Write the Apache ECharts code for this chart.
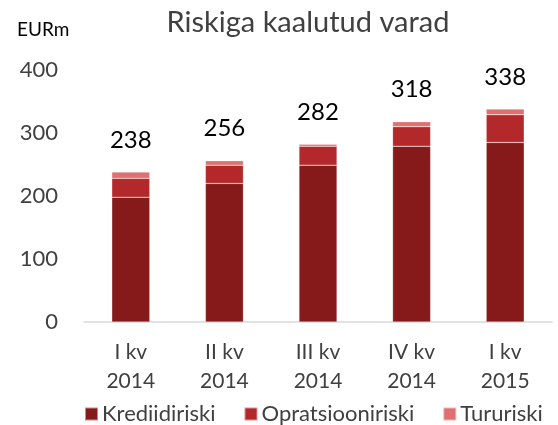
<!DOCTYPE html>
<html>
<head>
<meta charset="utf-8">
<script src="https://cdn.jsdelivr.net/npm/echarts@6/dist/echarts.min.js"></script>
<style>
  html, body { margin: 0; padding: 0; background: #fff; }
  #main { width: 558px; height: 425px; }
</style>
</head>
<body>
<div id="main"></div>
<script>
var categories = ['I kv\n2014', 'II kv\n2014', 'III kv\n2014', 'IV kv\n2014', 'I kv\n2015'];
var krediidiriski = [198, 220, 249, 279, 285];
var opratsiooniriski = [30, 29, 30, 31, 44];
var tururiski = [10, 7, 3, 8, 9];
var totals = [238, 256, 282, 318, 338];

var font = 'Lato';
var myChart = echarts.init(document.getElementById('main'));

var option = {
    animation: false,
    textStyle: { fontFamily: font },
    title: [
        {
            text: 'Riskiga kaalutud varad',
            left: 303,
            top: 3,
            textAlign: 'center',
            textStyle: { fontFamily: font, fontSize: 29, fontWeight: 'normal', color: '#404040' }
        },
        {
            text: 'EURm',
            left: 12,
            top: 15,
            textStyle: { fontFamily: font, fontSize: 19, fontWeight: 'normal', color: '#000' }
        }
    ],
    legend: {
        left: 84,
        top: 403,
        width: 474,
        padding: 0,
        itemWidth: 13,
        itemHeight: 13,
        itemGap: 28,
        icon: 'rect',
        textStyle: { fontFamily: font, fontSize: 22, color: '#404040', padding: [0, 0, 0, -1] },
        data: ['Krediidiriski', 'Opratsiooniriski', 'Tururiski']
    },
    grid: { left: 84, right: 6, top: 70, bottom: 103 },
    xAxis: {
        type: 'category',
        data: categories,
        axisLine: { lineStyle: { color: '#d9d9d9', width: 1.5 } },
        axisTick: { length: 6, lineStyle: { color: '#d9d9d9', width: 1.5 } },
        axisLabel: { fontFamily: font, fontSize: 21, color: '#404040', lineHeight: 29, margin: 16 }
    },
    yAxis: {
        type: 'value',
        min: 0,
        max: 400,
        interval: 100,
        splitLine: { show: false },
        axisLine: { show: false },
        axisTick: { show: false },
        axisLabel: { fontFamily: font, fontSize: 22, color: '#404040', margin: 26 }
    },
    series: [
        {
            name: 'Krediidiriski',
            type: 'bar',
            stack: 'risk',
            barWidth: 38,
            data: krediidiriski,
            itemStyle: { color: '#861a1a', borderColor: 'rgba(255,255,255,0.5)', borderWidth: 0.5 }
        },
        {
            name: 'Opratsiooniriski',
            type: 'bar',
            stack: 'risk',
            data: opratsiooniriski,
            itemStyle: { color: '#b3282a', borderColor: 'rgba(255,255,255,0.5)', borderWidth: 0.5 }
        },
        {
            name: 'Tururiski',
            type: 'bar',
            stack: 'risk',
            data: tururiski,
            itemStyle: { color: '#e07070', borderColor: 'rgba(255,255,255,0.5)', borderWidth: 0.5 },
            label: {
                show: true,
                position: 'top',
                distance: 20,
                fontFamily: font,
                fontSize: 24,
                color: '#000',
                formatter: function (p) { return totals[p.dataIndex]; }
            }
        }
    ]
};

myChart.setOption(option);
</script>
</body>
</html>
